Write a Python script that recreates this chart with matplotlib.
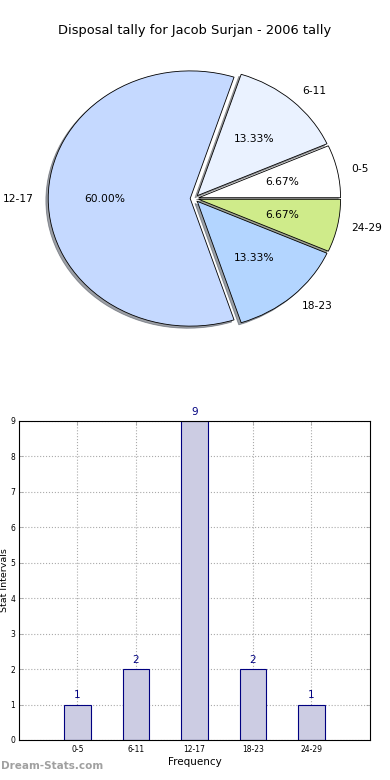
import matplotlib
matplotlib.use('Agg')
import matplotlib.pyplot as plt

# Daten
labels = ['0-5', '6-11', '12-17', '18-23', '24-29']
counts = [1, 2, 9, 2, 1]
pie_colors = ['#ffffff', '#eaf2ff', '#c5d9ff', '#b3d5ff', '#cfeb8a']

fig = plt.figure(figsize=(3.9, 7.8), dpi=100)

fig.text(0.5, 0.9615, 'Disposal tally for Jacob Surjan - 2006 tally',
         ha='center', va='center', fontsize=9.4)

# Kuchendiagramm
ax1 = fig.add_axes([0.0436, 0.541, 0.910, 0.409])
wedges, texts, autotexts = ax1.pie(counts, labels=labels, colors=pie_colors,
                                   explode=[0.03] * len(counts),
                                   shadow={'ox': -0.012, 'oy': -0.012},
                                   autopct='%1.2f%%', startangle=0,
                                   wedgeprops={'edgecolor': 'black', 'linewidth': 0.6},
                                   textprops={'fontsize': 7.7})
ax1.set_aspect('auto')
ax1.set_xlim(-1.25, 1.25)
ax1.set_ylim(-1.25, 1.25)

# Balkendiagramm
ax2 = fig.add_axes([0.0487, 0.0513, 0.9, 0.409])
x = range(len(labels))
ax2.bar(x, counts, width=0.45, color='#ccccE3', edgecolor='#000080', linewidth=0.8, zorder=2)
for i, c in zip(x, counts):
    ax2.text(i, c + 0.12, str(c), ha='center', va='bottom', color='#000080', fontsize=7.5)
ax2.set_xlim(-1, 5)
ax2.set_ylim(0, 9)
ax2.set_xticks(list(x))
ax2.set_xticklabels(labels)
ax2.set_yticks(range(10))
ax2.tick_params(direction='in', top=True, right=True, labelsize=5.5, length=3, width=0.5, colors='#999999', labelcolor='black')
ax2.tick_params(axis='y', pad=2.8)
ax2.grid(True, linestyle=':', color='#aaaaaa', linewidth=0.8, zorder=0)
ax2.set_axisbelow(True)
ax2.set_xlabel('Frequency', fontsize=7.5, labelpad=2)
ax2.set_ylabel('Stat Intervals', fontsize=6.8)
ax2.yaxis.set_label_coords(-0.028, 0.5)

fig.text(0.002, 0.012, 'Dream-Stats.com', ha='left', va='bottom',
         fontsize=7.5, color='#a0a0a0', fontweight='bold')

fig.savefig('out.png', dpi=100)
